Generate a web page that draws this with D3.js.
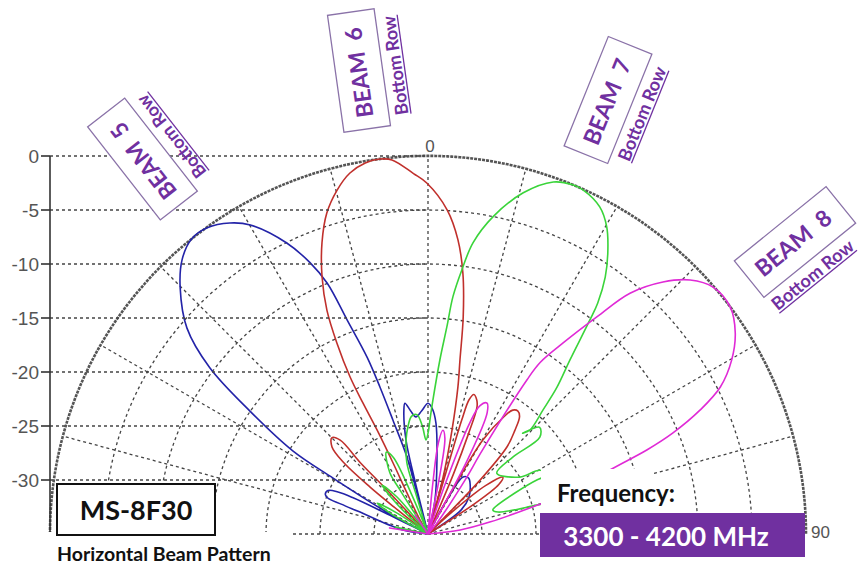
<!DOCTYPE html>
<html>
<head>
<meta charset="utf-8">
<script src="https://cdn.jsdelivr.net/npm/d3@7"></script>
<style>
  body { margin: 0; background: #fff; }
  text { white-space: pre; }
</style>
</head>
<body>
<svg id="chart" width="861" height="567"></svg>
<script>
// level rings (dB) and spoke angles (deg)
const dbTicks = [0, -5, -10, -15, -20, -25, -30];
const angleTicks = [-90, -75, -60, -45, -30, -15, 0, 15, 30, 45, 60, 75, 90];

// [angle deg, level dB]
const beam5 = [[-90,-35],[-81,-35],[-80,-32.4],[-72,-28.2],[-71,-26.5],[-70.2,-25.1],[-68.8,-24.8],[-66.5,-24.9],
  [-65,-25.8],[-64.2,-27.3],[-63.8,-30.8],[-63.2,-35],[-62.2,-31.5],[-61.6,-29.9],[-59.5,-24.8],[-58.4,-20.3],
  [-55.4,-15],[-52.7,-9.6],[-49.5,-5.65],[-45.2,-2.66],[-41.9,-0.9],[-38.8,0],[-35.8,-0.05],[-32.5,-0.86],
  [-29.9,-2.0],[-25.9,-5.05],[-23.5,-7.6],[-21.9,-9.95],[-20.7,-13.8],[-19,-17.7],[-18.1,-20.7],[-17.1,-24],
  [-15.3,-27.6],[-15,-31.1],[-14.5,-35],[-13.8,-30],[-13.2,-26.1],[-11,-23.3],[-10,-22.7],[-8,-23.5],
  [-5.9,-24.1],[-3,-23.6],[0,-22.9],[2,-23.4],[4.1,-24.7],[6.9,-28.1],[11.6,-31.8],[14,-35],[27,-35],
  [29,-31.5],[31.6,-28.8],[36,-28.6],[40.6,-29],[48,-29.9],[54,-31.2],[58,-35],[90,-35]];

const beam6 = [[-90,-35],[-53,-35],[-51.5,-31],[-51,-28.1],[-49.7,-24.7],[-47.8,-23.0],[-45,-22.4],[-43.1,-23.1],
  [-43.5,-25.9],[-43,-29.4],[-42,-35],[-30,-35],[-29.7,-33.5],[-27.1,-30.7],[-26.2,-27.7],[-26.1,-24.3],
  [-26.4,-21.5],[-26.4,-18.8],[-25.5,-15.4],[-24.3,-12.25],[-22.4,-9.26],[-20,-6.3],[-17.5,-3.84],
  [-14.8,-2.06],[-12.2,-0.8],[-9.6,-0.16],[-7.3,0],[-5.5,-0.2],[-2.3,-1.6],[-0.2,-2.5],[3.4,-4.95],
  [5.8,-7.6],[7.6,-10.6],[9.2,-14.6],[10.4,-18.6],[11.5,-21.1],[13,-25.1],[15,-29.8],[15.8,-35],
  [16.3,-29],[16.5,-24],[17,-22],[18.2,-21.4],[20,-21.8],[21.1,-22.4],[22,-25],[23,-29],[24,-35],
  [28,-35],[29,-30],[30.3,-24.9],[33,-22],[34.4,-21.1],[36.2,-20.9],[37.9,-21.2],[40,-22.5],[42.2,-24.1],
  [44,-28],[45,-35],[46,-35],[47.5,-32],[50,-28],[52.8,-26.3],[55,-27],[57,-30],[59,-35],[90,-35]];

const beam7 = [[-90,-35],[-80,-35],[-78,-31.9],[-76,-35],[-63,-35],[-61,-31],[-58.7,-29.5],[-56,-31.5],[-54,-35],
  [-48,-35],[-46,-31],[-43.2,-28.8],[-40,-30.5],[-38,-35],[-34,-35],[-32.5,-30],[-31.9,-28.3],[-27,-26.5],
  [-24.4,-27.2],[-22.5,-31],[-21,-35],[-17.5,-35],[-16.8,-31],[-16.5,-28.1],[-13,-26],[-10.6,-24.9],
  [-8,-24],[-5.3,-23.9],[-3,-25],[-1.2,-26.3],[0.2,-25.5],[1,-24.4],[2.1,-22.6],[3.9,-18.85],[5.2,-15.75],
  [6.0,-12.9],[7.3,-10.35],[8.8,-7.7],[11.6,-5.0],[15.6,-2.2],[19.6,-0.4],[22.5,0],[24.3,-0.06],
  [27.7,-0.79],[30.2,-2.1],[32.6,-4.1],[34.6,-6.1],[36.3,-8.45],[37.1,-10.15],[39.2,-14.2],[41.3,-16.9],
  [42.8,-19.3],[44.4,-21.5],[43.2,-22.2],[46.3,-20.7],[49.1,-21.3],[47.8,-24.4],[48.5,-26.5],[58.2,-25],
  [60.3,-23.1],[64.5,-22.2],[63.6,-23.7],[68.1,-28.3],[69.7,-28.6],[72.6,-28.2],[75.1,-24.6],[75.6,-22.4]];

const beam8 = [[-90,-35],[-84,-35],[-81,-31.4],[-78,-35],[-40,-35],[-34,-32.9],[-30,-35],[4,-35],[5.5,-30],
  [6.5,-26.5],[8.2,-25.3],[10,-26],[11.5,-30],[13,-35],[18,-35],[19,-30],[20.6,-24],[22,-22.2],[24.2,-21.7],
  [26,-22.5],[28,-27],[29.5,-35],[40,-35],[39.3,-33.7],[34.5,-29],[33,-25.8],[32.7,-18.05],[33.2,-16],
  [35.3,-13.3],[37.9,-9.5],[40,-5.9],[43,-3.1],[45.9,-1.2],[49.1,-0.08],[53.1,0],[56.8,-1.0],[60.2,-2.6],
  [63.3,-4.7],[65.5,-7.3],[67.6,-10.5],[69,-13.3],[70.6,-17.1],[73.2,-20.3],[75.2,-24.5],[79,-29.1],
  [82.9,-32],[86,-35],[90,-35]];

const beamNames = ["BEAM  5", "BEAM  6", "BEAM  7", "BEAM  8"];
const rowName = "Bottom Row";
const modelName = "MS-8F30";
const patternName = "Horizontal Beam Pattern";
const freqTitle = "Frequency:";
const freqRange = "3300 - 4200 MHz";

const svg = d3.select("#chart");
const cx = 428, cy = 534, R = 378;
const purple = "#7030a0";
const rad = a => a * Math.PI / 180;

const r = d3.scaleLinear().domain([-35, 0]).range([0, R]).clamp(true);

const g = svg.append("g").attr("transform", `translate(${cx},${cy})`);

// horizontal reference lines from the left axis to the centre line
svg.selectAll(".hline").data(dbTicks).enter().append("line")
    .attr("x1", cx - R).attr("x2", cx)
    .attr("y1", d => cy - r(d)).attr("y2", d => cy - r(d))
    .attr("stroke", "#444").attr("stroke-width", 1.3).attr("stroke-dasharray", "3,3");

// rings
g.selectAll(".ring").data(dbTicks.slice(1)).enter().append("path")
    .attr("d", d => { const p = d3.path(); p.arc(0, 0, r(d), -Math.PI, 0); return p.toString(); })
    .attr("fill", "none").attr("stroke", "#444").attr("stroke-width", 1.3).attr("stroke-dasharray", "3,3");

// spokes
g.selectAll(".spoke").data(angleTicks).enter().append("line")
    .attr("x1", 0).attr("y1", 0)
    .attr("x2", d => R * Math.sin(rad(d))).attr("y2", d => -R * Math.cos(rad(d)))
    .attr("stroke", "#444").attr("stroke-width", 1.3).attr("stroke-dasharray", "3,3");

// outer ring
g.append("path")
    .attr("d", () => { const p = d3.path(); p.arc(0, 0, r(0), -Math.PI, 0); return p.toString(); })
    .attr("fill", "none").attr("stroke", "#555").attr("stroke-width", 2.6).attr("stroke-dasharray", "3,1");

// left axis
svg.append("line").attr("x1", cx - R).attr("x2", cx - R).attr("y1", cy - r(0)).attr("y2", cy)
    .attr("stroke", "#333").attr("stroke-width", 1.6);
svg.selectAll(".tick").data(dbTicks).enter().append("line")
    .attr("x1", cx - R - 9).attr("x2", cx - R)
    .attr("y1", d => cy - r(d)).attr("y2", d => cy - r(d))
    .attr("stroke", "#333").attr("stroke-width", 1.6);
svg.selectAll(".tlabel").data(dbTicks).enter().append("text")
    .attr("x", cx - R - 11).attr("y", d => cy - r(d) + 7)
    .attr("text-anchor", "end").attr("font-family", "Liberation Sans, Arial, sans-serif")
    .attr("font-size", 19).attr("fill", "#555").text(d => d);

// angle labels
svg.append("text").attr("x", cx + 2).attr("y", cy - R - 4).attr("text-anchor", "middle")
    .attr("font-family", "Liberation Sans, Arial, sans-serif").attr("font-size", 17).attr("fill", "#555")
    .text(angleTicks[6]);
svg.append("text").attr("x", cx + R + 5).attr("y", cy + 4)
    .attr("font-family", "Liberation Sans, Arial, sans-serif").attr("font-size", 17).attr("fill", "#555")
    .text(angleTicks[12]);

// patterns
const line = d3.lineRadial()
    .angle(d => rad(d[0]))
    .radius(d => r(d[1]))
    .curve(d3.curveCatmullRom.alpha(0.5));

const patterns = [beam5, beam6, beam7, beam8];
const colors = ["#2323a8", "#c0302c", "#3ad43a", "#e02ad6"];

g.selectAll(".beam").data(patterns).enter().append("path")
    .attr("d", line)
    .attr("fill", "none")
    .attr("stroke", (d, i) => colors[i])
    .attr("stroke-width", 1.6)
    .attr("stroke-linejoin", "round");

// beam labels
const labelPos = [
    { x: 142.5, y: 159, rot: -128, sub: 0 },
    { x: 359, y: 70.5, rot: -98, sub: 0 },
    { x: 608, y: 100, rot: -68, sub: 0 },
    { x: 795, y: 242, rot: -39, sub: -7 }
];

beamNames.forEach((name, i) => {
    const p = labelPos[i];
    const lg = svg.append("g").attr("transform", `translate(${p.x},${p.y}) rotate(${p.rot})`);
    lg.append("rect").attr("x", -59).attr("y", -23.5).attr("width", 118).attr("height", 47)
        .attr("fill", "#fff").attr("stroke", "#8a72a8").attr("stroke-width", 1.3);
    lg.append("text").attr("x", -2).attr("y", 8).attr("text-anchor", "middle")
        .attr("font-family", "Lato, sans-serif").attr("font-weight", "bold").attr("font-size", 23)
        .attr("fill", purple).text(name);
    const sub = lg.append("text").attr("x", p.sub).attr("y", 43).attr("text-anchor", "middle")
        .attr("font-family", "Lato, sans-serif").attr("font-weight", "bold").attr("font-size", 18)
        .attr("fill", purple).text(rowName);
    const w = sub.node().getComputedTextLength();
    lg.append("line").attr("x1", p.sub - w / 2).attr("x2", p.sub + w / 2).attr("y1", 45.5).attr("y2", 45.5)
        .attr("stroke", purple).attr("stroke-width", 1.3);
});

// model box
svg.append("rect").attr("x", 45).attr("y", 532).attr("width", 248).attr("height", 35).attr("fill", "#fff");
svg.append("rect").attr("x", 57).attr("y", 484).attr("width", 158).attr("height", 51)
    .attr("fill", "#fff").attr("stroke", "#111").attr("stroke-width", 2);
svg.append("text").attr("x", 136).attr("y", 520).attr("text-anchor", "middle")
    .attr("font-family", "Lato, sans-serif").attr("font-weight", "bold").attr("font-size", 27)
    .attr("fill", "#111").text(modelName);
svg.append("text").attr("x", 57).attr("y", 561)
    .attr("font-family", "Lato, sans-serif").attr("font-weight", "bold").attr("font-size", 19.5)
    .attr("fill", "#111").text(patternName);

// frequency
svg.append("rect").attr("x", 541).attr("y", 469).attr("width", 112).attr("height", 44).attr("fill", "#fff");
svg.append("text").attr("x", 557).attr("y", 502)
    .attr("font-family", "Lato, sans-serif").attr("font-weight", "bold").attr("font-size", 24)
    .attr("fill", "#111").text(freqTitle);
svg.append("rect").attr("x", 540).attr("y", 513).attr("width", 265).attr("height", 44).attr("fill", purple);
svg.append("text").attr("x", 666).attr("y", 546).attr("text-anchor", "middle")
    .attr("font-family", "Lato, sans-serif").attr("font-weight", "bold").attr("font-size", 26)
    .attr("fill", "#fff").text(freqRange);
</script>
</body>
</html>
